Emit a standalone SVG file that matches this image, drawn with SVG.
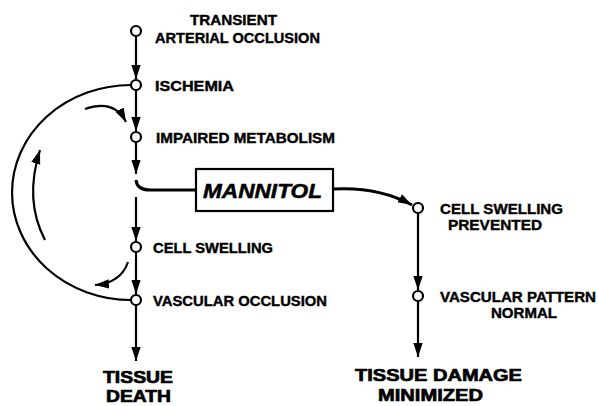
<svg xmlns="http://www.w3.org/2000/svg" width="598" height="406" viewBox="0 0 598 406">
<defs>
<style>
.ln{fill:none;stroke:#000;stroke-width:2.2}
.thk{fill:none;stroke:#000;stroke-width:3}
.nd{fill:#fff;stroke:#000;stroke-width:2.2}
.t{font-family:"Liberation Sans",Arial,sans-serif;font-weight:bold;font-size:15px;fill:#000;stroke:#000;stroke-width:0.4}
.big{font-family:"Liberation Sans",Arial,sans-serif;font-weight:bold;font-size:17px;fill:#000;stroke:#000;stroke-width:0.7}
.man{font-family:"Liberation Sans",Arial,sans-serif;font-weight:bold;font-style:italic;font-size:20px;fill:#000;stroke:#000;stroke-width:0.5}
</style>
<marker id="ah" markerUnits="userSpaceOnUse" markerWidth="14" markerHeight="10" refX="12" refY="4" orient="auto" viewBox="0 0 12 8">
<path d="M0,0 L12,4 L0,8 Z" fill="#000"/>
</marker>
</defs>
<rect width="598" height="406" fill="#fff"/>
<g id="connectors">
<path class="ln" d="M136,36 V79" marker-end="url(#ah)"/>
<path class="ln" d="M136,90 V131" marker-end="url(#ah)"/>
<path class="ln" d="M136,142 V174" marker-end="url(#ah)"/>
<path class="thk" d="M136,180 Q137,190 150,190 H196"/>
<path class="ln" d="M136,197 V241" marker-end="url(#ah)"/>
<path class="ln" d="M136,252 V294" marker-end="url(#ah)"/>
<path class="ln" d="M136,305 V361" marker-end="url(#ah)"/>
<path class="ln" d="M131,85 A119,107.5 0 0 0 131,300"/>
<path class="ln" d="M85,109 Q114,99 126,122" marker-end="url(#ah)"/>
<path class="ln" d="M45,240 Q24,200 40,150" marker-end="url(#ah)"/>
<path class="ln" d="M128,262 Q121,283 95,285" marker-end="url(#ah)"/>
<path class="thk" d="M333,189 C368,187 392,194 412,205" marker-end="url(#ah)"/>
<path class="ln" d="M418,213 V290" marker-end="url(#ah)"/>
<path class="ln" d="M418,301 V357" marker-end="url(#ah)"/>
</g>
<g id="transient">
<circle class="nd" cx="136" cy="31" r="5"/>
<text class="t" x="190" y="25" textLength="87" lengthAdjust="spacingAndGlyphs">TRANSIENT</text>
<text class="t" x="155" y="43" textLength="165" lengthAdjust="spacingAndGlyphs">ARTERIAL OCCLUSION</text>
</g>
<g id="ischemia">
<circle class="nd" cx="136" cy="85" r="5"/>
<text class="t" x="155" y="91" textLength="79" lengthAdjust="spacingAndGlyphs">ISCHEMIA</text>
</g>
<g id="impaired">
<circle class="nd" cx="136" cy="137" r="5"/>
<text class="t" x="156" y="143" textLength="179" lengthAdjust="spacingAndGlyphs">IMPAIRED METABOLISM</text>
</g>
<g id="mannitol">
<rect x="196" y="169" width="137" height="42" fill="#fff" stroke="#000" stroke-width="2.2"/>
<text class="man" x="203" y="198" textLength="119" lengthAdjust="spacingAndGlyphs">MANNITOL</text>
</g>
<g id="cell-swelling">
<circle class="nd" cx="136" cy="247" r="5"/>
<text class="t" x="153" y="253" textLength="120" lengthAdjust="spacingAndGlyphs">CELL SWELLING</text>
</g>
<g id="vascular-occlusion">
<circle class="nd" cx="136" cy="300" r="5"/>
<text class="t" x="153" y="306" textLength="174" lengthAdjust="spacingAndGlyphs">VASCULAR OCCLUSION</text>
</g>
<g id="tissue-death">
<text class="big" x="103" y="383" textLength="70" lengthAdjust="spacingAndGlyphs">TISSUE</text>
<text class="big" x="106" y="402" textLength="65" lengthAdjust="spacingAndGlyphs">DEATH</text>
</g>
<g id="swelling-prevented">
<circle class="nd" cx="418" cy="208" r="5"/>
<text class="t" x="440" y="214" textLength="123" lengthAdjust="spacingAndGlyphs">CELL SWELLING</text>
<text class="t" x="448" y="230" textLength="94" lengthAdjust="spacingAndGlyphs">PREVENTED</text>
</g>
<g id="vascular-normal">
<circle class="nd" cx="418" cy="296" r="5"/>
<text class="t" x="440" y="302" textLength="156" lengthAdjust="spacingAndGlyphs">VASCULAR PATTERN</text>
<text class="t" x="491" y="318" textLength="66" lengthAdjust="spacingAndGlyphs">NORMAL</text>
</g>
<g id="tissue-damage">
<text class="big" x="355" y="381" textLength="167" lengthAdjust="spacingAndGlyphs">TISSUE DAMAGE</text>
<text class="big" x="378" y="401" textLength="105" lengthAdjust="spacingAndGlyphs">MINIMIZED</text>
</g>
</svg>
